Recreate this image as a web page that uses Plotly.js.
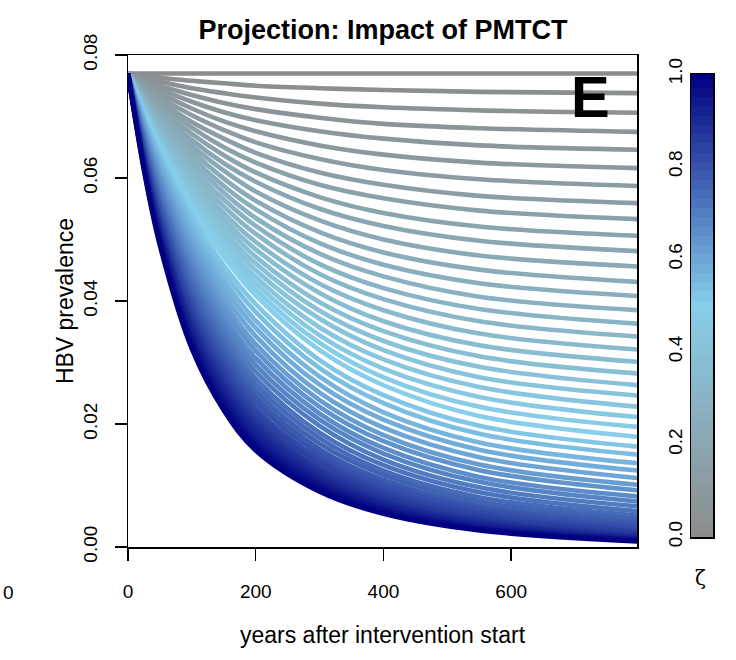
<!DOCTYPE html>
<html>
<head>
<meta charset="utf-8">
<script src="https://cdn.plot.ly/plotly-3.0.1.min.js"></script>
<style>html,body{margin:0;padding:0;background:#fff;}#chart{width:736px;height:660px;}</style>
</head>
<body>
<div id="chart"></div>
<script>
// ---- data ----
const years = [0, 25, 50, 100, 150, 200, 300, 400, 550, 800];
const zeta = [0.00,0.02,0.04,0.06,0.08,0.10,0.12,0.14,0.16,0.18,0.20,0.22,0.24,0.26,0.28,0.30,0.32,0.34,0.36,0.38,0.40,0.42,0.44,0.46,0.48,0.50,0.52,0.54,0.56,0.58,0.60,0.62,0.64,0.66,0.68,0.70,0.72,0.74,0.76,0.78,0.80,0.82,0.84,0.86,0.88,0.90,0.92,0.94,0.96,0.98,1.00];
// prevalence of each curve (one value per zeta) at each year
const prevT0 = [0.077,0.077,0.077,0.077,0.077,0.077,0.077,0.077,0.077,0.077,0.077,0.077,0.077,0.077,0.077,0.077,0.077,0.077,0.077,0.077,0.077,0.077,0.077,0.077,0.077,0.077,0.077,0.077,0.077,0.077,0.077,0.077,0.077,0.077,0.077,0.077,0.077,0.077,0.077,0.077,0.077,0.077,0.077,0.077,0.077,0.077,0.077,0.077,0.077,0.077,0.077];
const prevT25 = [0.0770,0.0767,0.0763,0.0760,0.0756,0.0753,0.0750,0.0747,0.0744,0.0741,0.0738,0.0736,0.0733,0.0730,0.0728,0.0726,0.0723,0.0721,0.0719,0.0717,0.0715,0.0713,0.0711,0.0709,0.0707,0.0705,0.0701,0.0697,0.0693,0.0689,0.0685,0.0681,0.0677,0.0673,0.0670,0.0665,0.0661,0.0658,0.0654,0.0650,0.0646,0.0642,0.0639,0.0635,0.0632,0.0628,0.0625,0.0622,0.0618,0.0615,0.0612];
const prevT50 = [0.0770,0.0763,0.0757,0.0750,0.0744,0.0738,0.0732,0.0726,0.0721,0.0715,0.0710,0.0705,0.0700,0.0695,0.0690,0.0686,0.0681,0.0677,0.0673,0.0669,0.0665,0.0661,0.0658,0.0654,0.0651,0.0648,0.0641,0.0634,0.0626,0.0620,0.0613,0.0606,0.0599,0.0592,0.0586,0.0579,0.0572,0.0566,0.0559,0.0553,0.0547,0.0540,0.0534,0.0528,0.0522,0.0517,0.0511,0.0506,0.0501,0.0495,0.0490];
const prevT100 = [0.0770,0.0758,0.0746,0.0735,0.0724,0.0713,0.0702,0.0691,0.0682,0.0672,0.0662,0.0653,0.0644,0.0635,0.0627,0.0618,0.0611,0.0603,0.0595,0.0588,0.0581,0.0575,0.0568,0.0562,0.0556,0.0550,0.0539,0.0528,0.0517,0.0507,0.0496,0.0486,0.0476,0.0466,0.0456,0.0447,0.0437,0.0428,0.0418,0.0409,0.0400,0.0391,0.0383,0.0374,0.0366,0.0359,0.0351,0.0343,0.0336,0.0329,0.0322];
const prevT150 = [0.0770,0.0754,0.0738,0.0722,0.0707,0.0692,0.0678,0.0664,0.0650,0.0637,0.0624,0.0612,0.0599,0.0587,0.0576,0.0565,0.0554,0.0543,0.0533,0.0524,0.0514,0.0506,0.0496,0.0488,0.0480,0.0472,0.0458,0.0446,0.0434,0.0422,0.0410,0.0398,0.0387,0.0375,0.0365,0.0354,0.0343,0.0333,0.0323,0.0313,0.0303,0.0294,0.0285,0.0276,0.0267,0.0260,0.0252,0.0244,0.0237,0.0229,0.0222];
const prevT200 = [0.0770,0.0750,0.0731,0.0712,0.0694,0.0676,0.0658,0.0641,0.0625,0.0609,0.0594,0.0578,0.0563,0.0549,0.0535,0.0522,0.0509,0.0496,0.0484,0.0472,0.0461,0.0450,0.0439,0.0429,0.0419,0.0409,0.0395,0.0382,0.0368,0.0356,0.0343,0.0330,0.0319,0.0307,0.0296,0.0285,0.0274,0.0264,0.0254,0.0244,0.0235,0.0225,0.0217,0.0208,0.0200,0.0192,0.0185,0.0177,0.0171,0.0164,0.0157];
const prevT300 = [0.0770,0.0746,0.0721,0.0698,0.0676,0.0653,0.0631,0.0609,0.0589,0.0569,0.0550,0.0531,0.0512,0.0494,0.0477,0.0460,0.0444,0.0428,0.0413,0.0398,0.0384,0.0371,0.0357,0.0344,0.0332,0.0320,0.0304,0.0291,0.0277,0.0264,0.0251,0.0239,0.0228,0.0217,0.0207,0.0197,0.0186,0.0177,0.0168,0.0159,0.0151,0.0143,0.0136,0.0128,0.0122,0.0116,0.0110,0.0105,0.0100,0.0095,0.0090];
const prevT400 = [0.0770,0.0743,0.0715,0.0688,0.0664,0.0638,0.0613,0.0589,0.0567,0.0543,0.0522,0.0500,0.0479,0.0459,0.0440,0.0421,0.0403,0.0385,0.0367,0.0351,0.0335,0.0320,0.0305,0.0290,0.0276,0.0263,0.0247,0.0234,0.0219,0.0207,0.0194,0.0182,0.0172,0.0161,0.0152,0.0142,0.0133,0.0124,0.0117,0.0109,0.0102,0.0095,0.0089,0.0083,0.0077,0.0073,0.0069,0.0064,0.0061,0.0057,0.0054];
const prevT550 = [0.0770,0.0740,0.0710,0.0681,0.0653,0.0625,0.0598,0.0571,0.0547,0.0521,0.0498,0.0474,0.0451,0.0429,0.0407,0.0387,0.0367,0.0347,0.0328,0.0310,0.0293,0.0276,0.0260,0.0244,0.0228,0.0213,0.0197,0.0184,0.0170,0.0158,0.0146,0.0134,0.0125,0.0114,0.0106,0.0097,0.0089,0.0081,0.0074,0.0067,0.0062,0.0056,0.0051,0.0046,0.0042,0.0039,0.0036,0.0033,0.0031,0.0029,0.0027];
const prevT800 = [0.0770,0.0738,0.0706,0.0675,0.0646,0.0616,0.0587,0.0559,0.0533,0.0506,0.0481,0.0456,0.0431,0.0408,0.0385,0.0363,0.0342,0.0321,0.0301,0.0282,0.0263,0.0246,0.0228,0.0211,0.0195,0.0179,0.0163,0.0150,0.0136,0.0124,0.0112,0.0101,0.0092,0.0082,0.0074,0.0066,0.0058,0.0051,0.0045,0.0039,0.0034,0.0029,0.0025,0.0021,0.0018,0.0016,0.0014,0.0012,0.0011,0.0010,0.0009];
const xTicks = [0, 200, 400, 600];
const yTicks = [0, 0.02, 0.04, 0.06, 0.08];
const yTickText = ['0.00', '0.02', '0.04', '0.06', '0.08'];
const barTicks = [0, 0.2, 0.4, 0.6, 0.8, 1.0];
const barTickText = ['0.0', '0.2', '0.4', '0.6', '0.8', '1.0'];

// ---- style ----
const stops = [[0, [140,140,140]], [0.5, [135,206,235]], [1, [0,0,128]]];
const colorscale = stops.map(s => [s[0], 'rgb(' + s[1].join(',') + ')']);
function colorAt(v) {
  for (let k = 0; k < stops.length - 1; k++) {
    const a = stops[k], b = stops[k + 1];
    if (v <= b[0]) {
      const f = (v - a[0]) / (b[0] - a[0]);
      const c = a[1].map((ch, j) => Math.round(ch + f * (b[1][j] - ch)));
      return 'rgb(' + c.join(',') + ')';
    }
  }
  return 'rgb(0,0,128)';
}
const cols = [prevT0, prevT25, prevT50, prevT100, prevT150, prevT200, prevT300, prevT400, prevT550, prevT800];

const traces = zeta.map((z, i) => ({
  type: 'scatter', mode: 'lines',
  x: years, y: cols.map(c => c[i]),
  line: {color: colorAt(z), width: 4.6, shape: 'spline', smoothing: 1},
  hoverinfo: 'skip', showlegend: false, xaxis: 'x', yaxis: 'y'
}));

traces.push({
  type: 'heatmap', x: [0], y: zeta, z: zeta.map(v => [v]),
  colorscale: colorscale, zmin: 0, zmax: 1, showscale: false,
  xaxis: 'x2', yaxis: 'y2', hoverinfo: 'skip'
});

const FONT = 'Liberation Sans, Arial, Helvetica, sans-serif';
const W = 736, H = 660, L = 128, R = 20, T = 55, B = 113;
const pw = W - L - R, ph = H - T - B;
const px = v => (v - L) / pw;
const py = v => (H - B - v) / ph;

const layout = {
  width: W, height: H,
  margin: {l: L, r: R, t: T, b: B, pad: 0},
  paper_bgcolor: '#fff', plot_bgcolor: '#fff',
  font: {family: FONT, size: 19, color: '#000'},
  title: {text: '<b>Projection: Impact of PMTCT</b>', font: {family: FONT, size: 27, color: '#000'},
          x: px(383), xref: 'paper', xanchor: 'center', y: 1 - 30 / H, yref: 'container', yanchor: 'middle'},
  xaxis: {domain: [0, px(637)], range: [0, 797], tickvals: xTicks, ticktext: xTicks.map(String),
          ticks: 'outside', ticklen: 12, tickwidth: 1.5, tickcolor: '#000',
          showline: true, mirror: true, linecolor: '#000', linewidth: 1.5,
          showgrid: false, zeroline: false, ticklabelstandoff: 15,
          tickfont: {family: FONT, size: 19},
          title: {text: 'years after intervention start', font: {family: FONT, size: 23}, standoff: 25}},
  yaxis: {domain: [0, 1], range: [0, 0.08], tickvals: yTicks, ticktext: yTickText, tickangle: -90,
          ticks: 'outside', ticklen: 12, tickwidth: 1.5, tickcolor: '#000',
          showline: true, mirror: true, linecolor: '#000', linewidth: 1.5,
          showgrid: false, zeroline: false, ticklabelstandoff: 10,
          tickfont: {family: FONT, size: 19},
          title: {text: 'HBV prevalence', font: {family: FONT, size: 23}, standoff: 0}},
  xaxis2: {domain: [px(691), px(713)], range: [-0.5, 0.5], anchor: 'y2',
           showticklabels: false, ticks: '', showgrid: false, zeroline: false,
           showline: true, mirror: true, linecolor: '#000', linewidth: 1.5},
  yaxis2: {domain: [py(537), py(74)], range: [0, 1], anchor: 'x2', side: 'left',
           tickvals: barTicks, ticktext: barTickText, tickangle: -90, ticks: '',
           ticklabelstandoff: 0, tickfont: {family: FONT, size: 19},
           showgrid: false, zeroline: false,
           showline: true, mirror: true, linecolor: '#000', linewidth: 1.5},
  annotations: [
    {text: '<b>E</b>', x: px(590), y: py(97), xref: 'paper', yref: 'paper', showarrow: false,
     xanchor: 'center', yanchor: 'middle', font: {family: FONT, size: 58, color: '#000'}},
    {text: 'ζ', x: px(700), y: py(578), xref: 'paper', yref: 'paper', showarrow: false,
     xanchor: 'center', yanchor: 'middle', font: {family: 'DejaVu Serif, serif', size: 20, color: '#000'}},
    {text: '0', x: px(1), y: py(592), xref: 'paper', yref: 'paper', showarrow: false,
     xanchor: 'left', yanchor: 'middle', font: {family: FONT, size: 19, color: '#000'}}
  ]
};

Plotly.newPlot('chart', traces, layout, {displayModeBar: false, staticPlot: true});
</script>
</body>
</html>
